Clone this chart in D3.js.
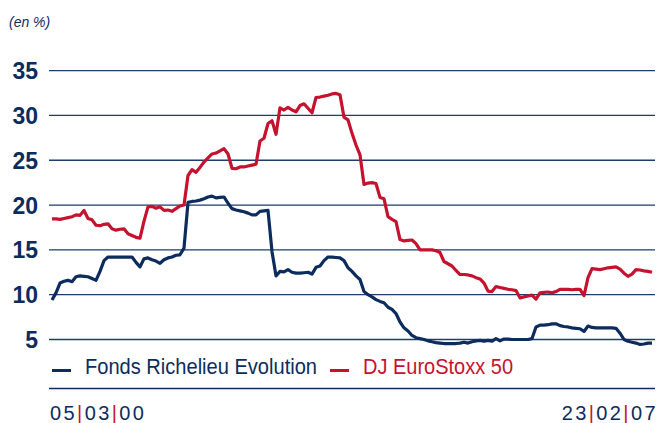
<!DOCTYPE html>
<html>
<head>
<meta charset="utf-8">
<script src="https://cdn.jsdelivr.net/npm/d3@7"></script>
<style>
	html, body { margin: 0; padding: 0; background: #fff; }
	svg { display: block; font-family: "Liberation Sans", Arial, sans-serif; }
</style>
</head>
<body>
<svg width="659" height="423"></svg>
<script>
// samples evenly spaced between 05/03/00 and 23/02/07
const fonds = [
	9.4, 10.2, 11.3, 11.5, 11.6, 11.45, 12.0, 12.1, 12.05, 12.0,
	11.8, 11.6, 12.6, 13.8, 14.2, 14.2, 14.2, 14.2, 14.2, 14.2,
	14.2, 13.6, 13.1, 14.0, 14.1, 13.9, 13.75, 13.5, 13.9, 14.1,
	14.2, 14.4, 14.45, 15.2, 20.3, 20.4, 20.45, 20.55, 20.7, 20.9,
	21.0, 20.8, 20.85, 20.9, 20.2, 19.6, 19.45, 19.35, 19.25, 19.1,
	18.9, 18.9, 19.3, 19.35, 19.4, 14.8, 12.1, 12.6, 12.55, 12.8,
	12.5, 12.4, 12.4, 12.45, 12.5, 12.3, 13.05, 13.2, 13.8, 14.2,
	14.2, 14.15, 14.1, 13.8, 13.0, 12.6, 12.1, 11.7, 10.35, 10.0,
	9.75, 9.45, 9.25, 9.1, 8.6, 8.35, 7.9, 6.95, 6.3, 5.95,
	5.45, 5.2, 5.1, 5.0, 4.85, 4.75, 4.65, 4.6, 4.55, 4.55,
	4.55, 4.55, 4.6, 4.7, 4.6, 4.75, 4.85, 4.9, 4.8, 4.9,
	4.8, 5.1, 4.85, 5.05, 5.05, 5.0, 5.0, 5.0, 5.0, 5.0,
	5.1, 6.4, 6.6, 6.6, 6.65, 6.75, 6.75, 6.55, 6.45, 6.4,
	6.3, 6.25, 6.2, 5.9, 6.5, 6.35, 6.3, 6.3, 6.3, 6.3,
	6.3, 6.25, 5.7, 5.0, 4.8, 4.7, 4.6, 4.45, 4.5, 4.6,
	4.6
];

const euroStoxx = [
	18.45, 18.45, 18.4, 18.5, 18.6, 18.7, 18.9, 18.85, 19.4, 18.5,
	18.35, 17.75, 17.7, 17.85, 17.9, 17.35, 17.2, 17.3, 17.35, 16.8,
	16.6, 16.4, 16.3, 18.2, 19.8, 19.85, 19.65, 19.8, 19.4, 19.45,
	19.3, 19.6, 19.9, 20.0, 23.3, 23.95, 23.65, 24.2, 24.8, 25.25,
	25.7, 25.8, 26.05, 26.3, 25.7, 24.1, 24.05, 24.25, 24.25, 24.35,
	24.45, 24.55, 27.15, 27.45, 29.1, 29.4, 27.9, 30.85, 30.6, 30.9,
	30.6, 30.4, 31.1, 31.3, 30.8, 30.3, 32.0, 32.05, 32.15, 32.25,
	32.4, 32.45, 32.3, 29.8, 29.5, 28.0, 26.7, 25.6, 22.3, 22.45,
	22.5, 22.4, 20.85, 20.7, 18.7, 18.4, 18.15, 16.15, 16.0, 16.05,
	16.1, 15.7, 15.0, 15.0, 15.0, 15.0, 14.9, 14.7, 13.7, 13.45,
	13.2, 12.7, 12.25, 12.25, 12.2, 12.1, 11.9, 11.75, 11.3, 10.4,
	10.35, 10.9, 10.8, 10.7, 10.6, 10.55, 10.45, 9.65, 9.75, 9.85,
	9.95, 9.5, 10.2, 10.25, 10.3, 10.2, 10.35, 10.6, 10.6, 10.6,
	10.55, 10.6, 10.6, 9.9, 11.9, 12.9, 12.85, 12.8, 12.9, 13.0,
	13.05, 13.1, 12.85, 12.4, 12.05, 12.3, 12.8, 12.75, 12.65, 12.6,
	12.5
];

const yTicks = [5, 10, 15, 20, 25, 30, 35];
const startLabel = ["05", "03", "00"];
const endLabel = ["23", "02", "07"];
const seriesNames = ["Fonds Richelieu Evolution", "DJ EuroStoxx 50"];

const navy = "#0d2c5e";
const red = "#c5122f";

const svg = d3.select("svg");

const x = d3.scaleLinear()
	.domain([0, fonds.length - 1])
	.range([52, 652]);

const y = d3.scaleLinear()
	.domain([5, 35])
	.range([339.5, 70.6]);

// grid
svg.append("g")
	.selectAll("line")
	.data(yTicks)
	.join("line")
	.attr("x1", 49)
	.attr("x2", 655)
	.attr("y1", d => y(d))
	.attr("y2", d => y(d))
	.attr("stroke", "#1e3d6d")
	.attr("stroke-width", 1.3);

svg.append("g")
	.selectAll("text")
	.data(yTicks)
	.join("text")
	.attr("x", 38)
	.attr("y", d => y(d) + 8.5)
	.attr("text-anchor", "end")
	.attr("font-size", 23)
	.attr("font-weight", "bold")
	.attr("fill", navy)
	.text(d => d);

svg.append("text")
	.attr("x", 9)
	.attr("y", 27)
	.attr("font-size", 14)
	.attr("font-style", "italic")
	.attr("fill", navy)
	.text("(en %)");

// series
const line = d3.line()
	.x((d, i) => x(i))
	.y(d => y(d));

svg.append("path")
	.datum(euroStoxx)
	.attr("fill", "none")
	.attr("stroke", red)
	.attr("stroke-width", 3.2)
	.attr("stroke-linejoin", "round")
	.attr("d", line);

svg.append("path")
	.datum(fonds)
	.attr("fill", "none")
	.attr("stroke", navy)
	.attr("stroke-width", 3.2)
	.attr("stroke-linejoin", "round")
	.attr("d", line);

// legend
const legend = [
	{ name: seriesNames[0], color: navy, x: 52, width: 232 },
	{ name: seriesNames[1], color: red, x: 330, width: 150 }
];

const item = svg.append("g")
	.selectAll("g")
	.data(legend)
	.join("g")
	.attr("transform", d => `translate(${d.x},0)`);

item.append("line")
	.attr("x1", 0)
	.attr("x2", 19)
	.attr("y1", 370.5)
	.attr("y2", 370.5)
	.attr("stroke", d => d.color)
	.attr("stroke-width", 3);

item.append("text")
	.attr("x", 33)
	.attr("y", 374)
	.attr("font-family", "'Liberation Sans Narrow', 'Liberation Sans', Arial, sans-serif")
	.attr("font-size", 21.5)
	.attr("fill", d => d.color)
	.attr("textLength", d => d.width)
	.attr("lengthAdjust", "spacingAndGlyphs")
	.text(d => d.name);

// bottom rule
svg.append("line")
	.attr("x1", 49)
	.attr("x2", 655)
	.attr("y1", 388.5)
	.attr("y2", 388.5)
	.attr("stroke", navy)
	.attr("stroke-width", 1.3);

// date labels
function dateLabel(parts, xPos, anchor) {
	const t = svg.append("text")
		.attr("x", xPos)
		.attr("y", 420)
		.attr("text-anchor", anchor)
		.attr("font-size", 20)
		.attr("letter-spacing", 2.4)
		.attr("fill", navy);
	parts.forEach((p, i) => {
		if (i > 0) t.append("tspan").attr("fill", red).attr("font-weight", 300).text("|");
		t.append("tspan").text(p);
	});
}

dateLabel(startLabel, 50, "start");
dateLabel(endLabel, 658, "end");
</script>
</body>
</html>
